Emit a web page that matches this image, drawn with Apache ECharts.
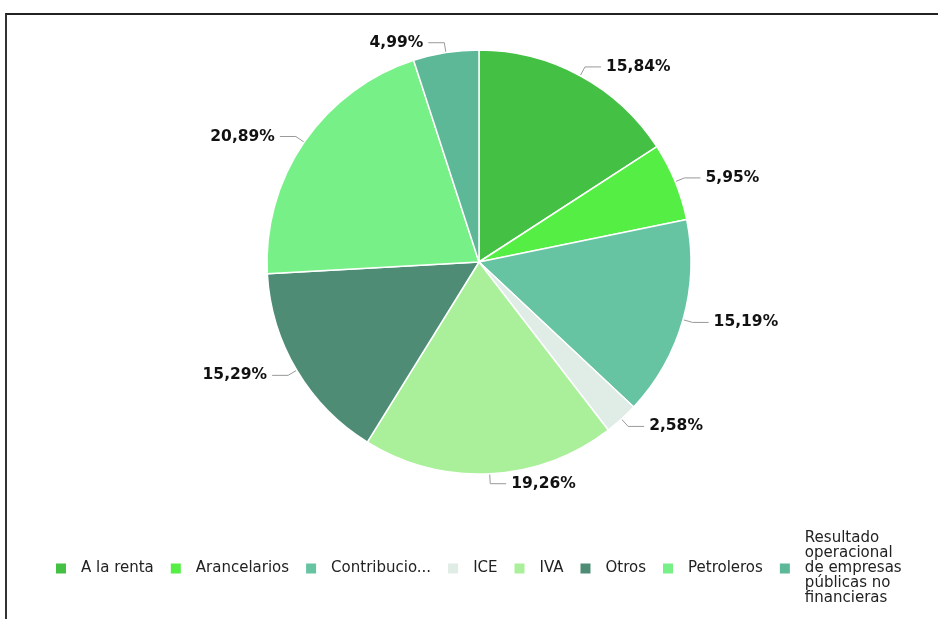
<!DOCTYPE html>
<html>
<head>
<meta charset="utf-8">
<script src="https://cdn.jsdelivr.net/npm/echarts@6/dist/echarts.min.js"></script>
<style>
html,body{margin:0;padding:0;background:#fff;}
#wrap{position:relative;width:938px;height:619px;overflow:hidden;}
#frame{position:absolute;left:5px;top:13px;width:940px;height:620px;border-top:2px solid #222;border-left:2px solid #333;box-sizing:border-box;}
#chart{position:absolute;left:0;top:0;width:938px;height:619px;}
</style>
</head>
<body>
<div id="wrap"><div id="frame"></div><div id="chart"></div></div>
<script>
var categories = ["A la renta","Arancelarios","Contribuciones","ICE","IVA","Otros","Petroleros","Resultado operacional de empresas públicas no financieras"];
var values = [15.84, 5.95, 15.19, 2.58, 19.26, 15.29, 20.89, 4.99];
var colors = ["#44c044","#55ee44","#66c4a2","#e0ece6","#aaf09a","#4e8c76","#78f088","#5db898"];

var chart = echarts.init(document.getElementById('chart'), null, {renderer:'canvas'});
var data = categories.map(function(c,i){return {name:c, value:values[i], itemStyle:{color:colors[i]}};});
chart.setOption({
  animation:false,
  backgroundColor:'transparent',
  legend:{
    left:49, top:569-43, orient:'horizontal',
    height:100, width:900,
    itemWidth:12, itemHeight:12, itemGap:15,
    icon:'rect',
    textStyle:{fontFamily:'DejaVu Sans', fontSize:15, color:'#222', lineHeight:15, padding:[0,0,0,9]},
    formatter:function(n){
      if(n==='Contribuciones') return 'Contribucio...';
      if(n.indexOf('Resultado')===0) return 'Resultado\noperacional\nde empresas\npúblicas no\nfinancieras';
      return n;
    },
    data:categories
  },
  series:[{
    type:'pie',
    center:[479,262],
    radius:212,
    startAngle:90,
    clockwise:true,
    data:data,
    itemStyle:{borderColor:'#ffffff', borderWidth:1.5},
    label:{show:true, position:'outside',
      formatter:function(p){return p.value.toFixed(2).replace('.',',')+'%';},
      fontFamily:'DejaVu Sans', fontWeight:'bold', fontSize:15.5, color:'#111'},
    labelLine:{show:true, length:10, length2:16, lineStyle:{color:'#999', width:1}},
    emphasis:{disabled:true}
  }]
});
</script>
</body>
</html>
